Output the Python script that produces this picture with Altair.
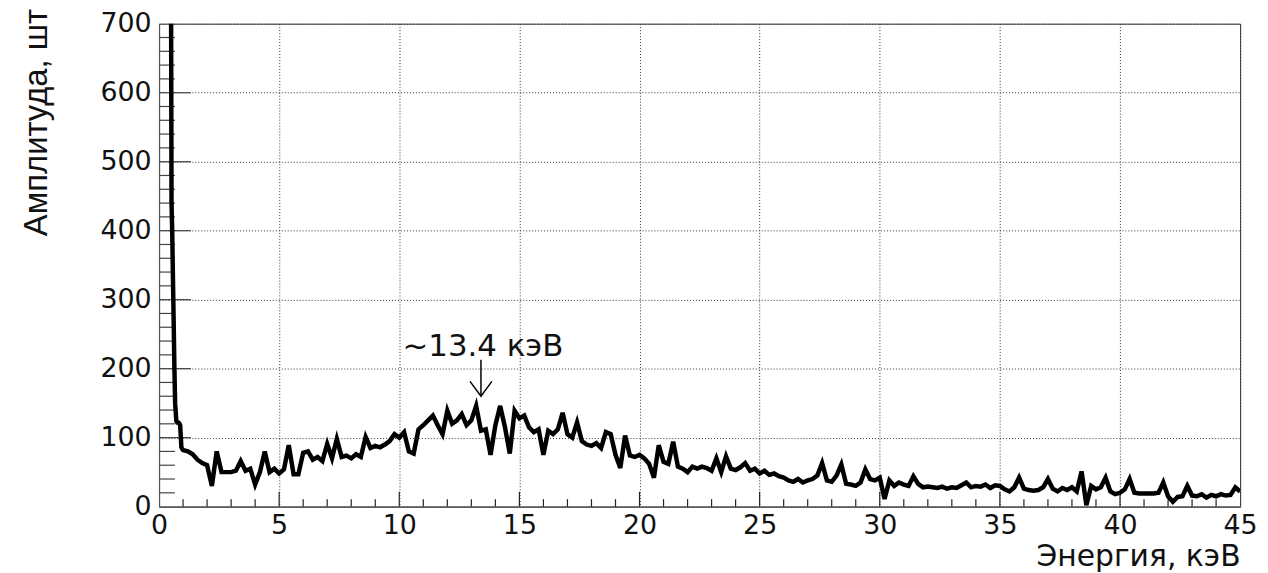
import altair as alt
import pandas as pd

# ---- data ----
head_energy = [0.46, 0.49, 0.52, 0.55, 0.58, 0.61, 0.64, 0.67, 0.72, 0.76, 0.80, 0.84, 0.88, 0.93]
head_counts = [1500, 900, 440, 396, 330, 266, 200, 150, 124, 122, 122, 121, 118, 86]

bin_start = 1.0
bin_step = 0.2
counts = [
    82, 80, 76, 68, 63, 60, 30, 80, 50, 50,          # 1.0 - 2.8
    50, 52, 66, 52, 55, 32, 50, 80, 50, 55,          # 3.0 - 4.8
    48, 54, 89, 47, 47, 78, 80, 68, 72, 66,          # 5.0 - 6.8
    91, 70, 98, 72, 74, 70, 76, 72, 101, 85,         # 7.0 - 8.8
    88, 86, 90, 95, 105, 100, 108, 80, 77, 112,      # 9.0 - 10.8
    118, 125, 132, 118, 105, 139, 120, 125, 134, 118,  # 11.0 - 12.8
    125, 146, 110, 112, 75, 118, 146, 115, 77, 139,  # 13.0 - 14.8
    128, 132, 115, 108, 112, 75, 110, 105, 112, 136, # 15.0 - 16.8
    105, 100, 122, 95, 90, 88, 92, 85, 108, 105,     # 17.0 - 18.8
    75, 56, 103, 74, 72, 75, 70, 62, 42, 89,         # 19.0 - 20.8
    65, 62, 94, 58, 55, 50, 58, 55, 58, 56,          # 21.0 - 22.8
    52, 70, 50, 73, 55, 53, 57, 63, 52, 55,          # 23.0 - 24.8
    48, 52, 46, 48, 44, 42, 38, 36, 40, 35,          # 25.0 - 26.8
    38, 40, 45, 63, 38, 36, 45, 61, 33, 32,          # 27.0 - 28.8
    30, 35, 54, 40, 38, 42, 11, 38, 30, 35,          # 29.0 - 30.8
    32, 30, 44, 33, 28, 29, 28, 27, 29, 26,          # 31.0 - 32.8
    28, 27, 31, 35, 28, 30, 29, 32, 27, 31,          # 33.0 - 34.8
    30, 25, 22, 28, 42, 26, 24, 23, 24, 28,          # 35.0 - 36.8
    40, 26, 22, 27, 24, 28, 22, 51, 2, 30,           # 37.0 - 38.8
    25, 28, 42, 22, 18, 20, 25, 40, 20, 19,          # 39.0 - 40.8
    19, 19, 19, 20, 35, 15, 7, 14, 15, 30,           # 41.0 - 42.8
    16, 15, 18, 13, 17, 15, 18, 16, 17, 28,          # 43.0 - 44.8
    22,                                              # 45.0
]
bin_energy = [round(bin_start + bin_step * i, 2) for i in range(len(counts))]

x_major = [0, 5, 10, 15, 20, 25, 30, 35, 40, 45]
x_minor = [v for v in range(0, 46) if v % 5 != 0]
y_major = [0, 100, 200, 300, 400, 500, 600, 700]
y_minor = [v for v in range(0, 701, 20) if v % 100 != 0]

peak_label = "~13.4 кэВ"
peak_energy = 13.4

x_title = "Энергия, кэВ"
y_title = "Амплитуда, шт"

df = pd.DataFrame({"energy": head_energy + bin_energy, "counts": head_counts + counts})

W, H = 1088, 486
PAD_TOP = 14
PAD_BOTTOM = 573 - 8 - PAD_TOP - H
FONT = "DejaVu Sans"
GRID = dict(grid=True, gridColor="#333", gridDash=[1, 2], gridWidth=1, gridOpacity=1,
            domainColor="#555", domainWidth=1.2)

xs = alt.Scale(domain=[0, 45], nice=False, zero=False)
ys = alt.Scale(domain=[0, 700], nice=False, zero=False)

xaxis = alt.Axis(
    values=x_major, title=x_title, format="d", ticks=False, tickSize=0,
    labelFont=FONT, labelFontSize=27, labelPadding=6, labelColor="#111",
    labelOverlap=False, labelFlush=False,
    titleFont=FONT, titleFontSize=30, titleFontWeight="normal", titleColor="#111",
    titleAlign="right", titleX=W, titleY=59, titleBaseline="alphabetic",
    **GRID,
)
yaxis = alt.Axis(
    values=y_major, title=y_title, format="d", ticks=False, tickSize=0,
    labelFont=FONT, labelFontSize=27, labelPadding=8, labelColor="#111",
    labelOverlap=False, labelFlush=False,
    titleFont="Liberation Sans",
    titleFontSize=33, titleFontWeight="normal", titleColor="#111",
    titleAngle=270, titleAlign="center", titleBaseline="middle",
    titleX=-123, titleY=99,
    **GRID,
)

line = alt.Chart(df).mark_line(color="black", strokeWidth=4.5, clip=True).encode(
    x=alt.X("energy:Q", scale=xs, axis=xaxis),
    y=alt.Y("counts:Q", scale=ys, axis=yaxis),
)

xmaj = alt.Chart(pd.DataFrame({"t": x_major[1:-1]})).mark_rule(color="#222", strokeWidth=1.2).encode(
    x=alt.X("t:Q", scale=xs, axis=xaxis), y=alt.value(H), y2=alt.value(H - 15)
)
xmin = alt.Chart(pd.DataFrame({"t": x_minor})).mark_rule(color="#222", strokeWidth=1.2).encode(
    x=alt.X("t:Q", scale=xs, axis=xaxis), y=alt.value(H), y2=alt.value(H - 7.5)
)
ymaj = alt.Chart(pd.DataFrame({"t": y_major[1:-1]})).mark_rule(color="#444", strokeWidth=1.2).encode(
    y=alt.Y("t:Q", scale=ys, axis=yaxis), x=alt.value(0), x2=alt.value(32)
)
ymin = alt.Chart(pd.DataFrame({"t": y_minor})).mark_rule(color="#444", strokeWidth=1.2).encode(
    y=alt.Y("t:Q", scale=ys, axis=yaxis), x=alt.value(0), x2=alt.value(16)
)

arrow_shaft = alt.Chart().mark_rule(color="black", strokeWidth=1.5).encode(
    x=alt.datum(peak_energy), y=alt.datum(213), y2=alt.datum(160)
)
arrow_head = alt.Chart().mark_point(
    shape="M-1,-1.36L0,0L1,-1.36", size=484, filled=False, color="black", strokeWidth=1.5, opacity=1
).encode(x=alt.datum(peak_energy), y=alt.datum(160))
label = alt.Chart().mark_text(
    text=peak_label, font=FONT, fontSize=31, align="center", baseline="alphabetic", color="#111"
).encode(x=alt.datum(13.48), y=alt.datum(219))

chart = alt.layer(xmin, xmaj, ymin, ymaj, line, arrow_shaft, arrow_head, label).properties(
    width=W, height=H,
    background="white",
    autosize=alt.AutoSizeParams(type="none"),
    padding={"left": 152, "top": PAD_TOP, "right": 20, "bottom": PAD_BOTTOM},
).configure_view(
    stroke="#333", strokeWidth=1
)

chart.save("out.html", embed_options={"renderer": "svg", "actions": False})
